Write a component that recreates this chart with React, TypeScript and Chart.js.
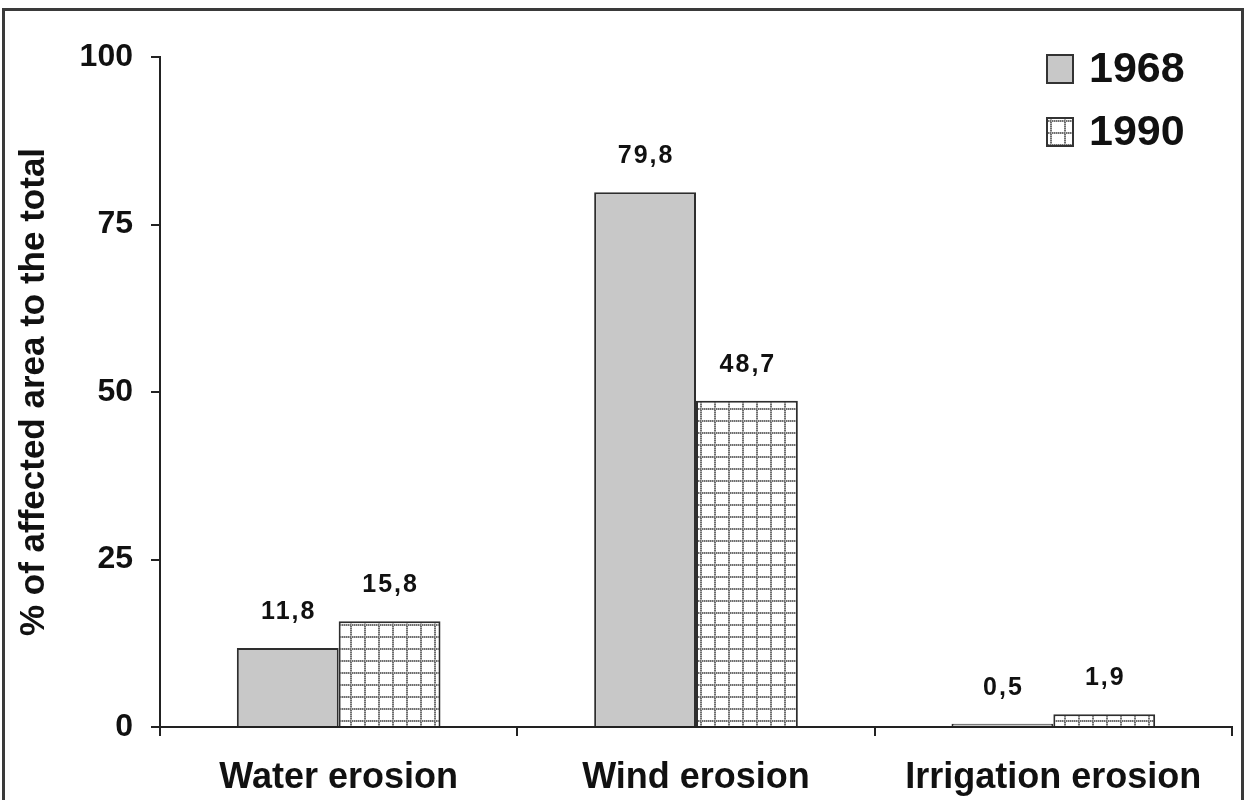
import React, { useEffect, useRef } from "react";
import { Chart, registerables } from "chart.js";

Chart.register(...registerables);

const categories = ["Water erosion", "Wind erosion", "Irrigation erosion"];
const seriesNames = ["1968", "1990"];
const values1968 = [11.8, 79.8, 0.5];
const values1990 = [15.8, 48.7, 1.9];
const yTicks = [0, 25, 50, 75, 100];
const axisTitle = "% of affected area to the total";

const FONT = "'Liberation Sans', Arial, sans-serif";

function makePattern(): CanvasPattern | string {
  const c = document.createElement("canvas");
  c.width = 14;
  c.height = 12;
  const x = c.getContext("2d");
  if (!x) return "#fff";
  x.fillStyle = "#ffffff";
  x.fillRect(0, 0, 14, 12);
  for (let i = 0; i < 12; i++) {
    x.fillStyle = i % 2 === 0 ? "#6e6e6e" : "#b0b0b0";
    x.fillRect(0, i, 2, 1);
  }
  for (let i = 0; i < 14; i++) {
    x.fillStyle = i % 2 === 0 ? "#6e6e6e" : "#b0b0b0";
    x.fillRect(i, 0, 1, 2);
  }
  const p = x.createPattern(c, "repeat");
  return p || "#fff";
}

function formatComma(v: number): string {
  return v.toFixed(1).replace(".", ",");
}

export default function App() {
  const ref = useRef<HTMLCanvasElement | null>(null);

  useEffect(() => {
    if (!ref.current) return;
    const pattern = makePattern();

    const framePlugin = {
      id: "frame",
      beforeDraw(chart: any) {
        const ctx = chart.ctx;
        ctx.save();
        ctx.fillStyle = "#ffffff";
        ctx.fillRect(0, 0, chart.width, chart.height);
        ctx.strokeStyle = "#3a3a3a";
        ctx.lineWidth = 3;
        ctx.beginPath();
        ctx.moveTo(3.5, 820);
        ctx.lineTo(3.5, 9.5);
        ctx.lineTo(1242.5, 9.5);
        ctx.lineTo(1242.5, 820);
        ctx.stroke();
        ctx.restore();
      },
    };

    const labelPlugin = {
      id: "barLabels",
      afterDatasetsDraw(chart: any) {
        const ctx = chart.ctx;
        ctx.save();
        ctx.fillStyle = "#111";
        ctx.font = `bold 25px ${FONT}`;
        (ctx as any).letterSpacing = "2px";
        ctx.textAlign = "center";
        ctx.textBaseline = "middle";
        chart.data.datasets.forEach((ds: any, di: number) => {
          const meta = chart.getDatasetMeta(di);
          meta.data.forEach((bar: any, i: number) => {
            ctx.fillText(formatComma(ds.data[i]), bar.x + 1, bar.y - 36);
          });
        });
        ctx.restore();
      },
    };

    const legendPlugin = {
      id: "customLegend",
      afterDraw(chart: any) {
        const ctx = chart.ctx;
        ctx.save();
        const items = [
          { label: seriesNames[0], fill: "#c8c8c8", y: 55 },
          { label: seriesNames[1], fill: pattern, y: 118 },
        ];
        items.forEach((it) => {
          ctx.fillStyle = it.fill as any;
          ctx.fillRect(1047, it.y, 26, 28);
          ctx.strokeStyle = "#333";
          ctx.lineWidth = 2;
          ctx.strokeRect(1047, it.y, 26, 28);
          ctx.fillStyle = "#111";
          ctx.font = `bold 43px ${FONT}`;
          ctx.textAlign = "left";
          ctx.textBaseline = "middle";
          ctx.fillText(it.label, 1089, it.y + 15);
        });
        ctx.restore();
      },
    };

    const chart = new Chart(ref.current, {
      type: "bar",
      data: {
        labels: categories,
        datasets: [
          {
            label: seriesNames[0],
            data: values1968,
            backgroundColor: "#c8c8c8",
            borderColor: "#2e2e2e",
            borderWidth: 2,
            borderSkipped: "bottom",
            categoryPercentage: 0.57,
            barPercentage: 1.0,
          },
          {
            label: seriesNames[1],
            data: values1990,
            backgroundColor: pattern as any,
            borderColor: "#2e2e2e",
            borderWidth: 2,
            borderSkipped: "bottom",
            categoryPercentage: 0.57,
            barPercentage: 1.0,
          },
        ],
      },
      options: {
        animation: false,
        responsive: false,
        maintainAspectRatio: false,
        layout: { padding: { left: 0, top: 57, right: 17, bottom: 0 } },
        plugins: {
          legend: { display: false },
          tooltip: { enabled: false },
          title: { display: false },
        },
        scales: {
          x: {
            grid: {
              display: true,
              drawOnChartArea: false,
              drawTicks: true,
              tickLength: 9,
              color: "#222",
              lineWidth: 2,
              offset: true,
            },
            border: { display: true, color: "#222", width: 2 },
            ticks: {
              color: "#111",
              font: { family: FONT, size: 36, weight: "bold" },
              padding: 20,
              maxRotation: 0,
              autoSkip: false,
            },
            afterFit(scale: any) {
              scale.height = 800 - 727;
            },
          },
          y: {
            min: 0,
            max: 100,
            afterBuildTicks(scale: any) {
              scale.ticks = yTicks.map((v) => ({ value: v }));
            },
            grid: {
              display: true,
              drawOnChartArea: false,
              drawTicks: true,
              tickLength: 9,
              color: "#222",
              lineWidth: 2,
            },
            border: { display: true, color: "#222", width: 2 },
            ticks: {
              color: "#111",
              font: { family: FONT, size: 32, weight: "bold" },
              padding: 18,
            },
            title: {
              display: true,
              text: axisTitle,
              color: "#111",
              font: { family: FONT, size: 35, weight: "bold" },
              padding: { top: 13, bottom: 0 },
            },
            afterFit(scale: any) {
              scale.width = 160;
            },
          },
        },
      },
      plugins: [framePlugin, labelPlugin, legendPlugin],
    });

    return () => chart.destroy();
  }, []);

  return (
    <div style={{ position: "fixed", left: 0, top: 0, width: 1249, height: 800, background: "#fff" }}>
      <canvas ref={ref} width={1249} height={800} style={{ display: "block", width: 1249, height: 800 }} />
    </div>
  );
}
